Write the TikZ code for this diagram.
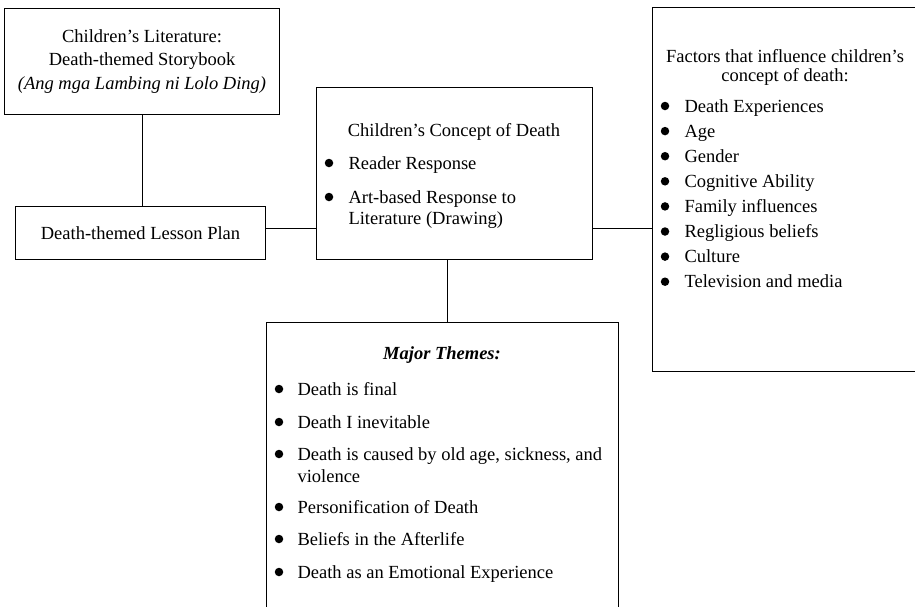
\documentclass[tikz,border=0pt]{standalone}
\usepackage{fontspec}
\setmainfont{Liberation Serif}
\usetikzlibrary{positioning, calc}
\newcommand{\fs}{\fontsize{18.5}{23.5}\selectfont}
\tikzset{
  diagram/.style={
	x=1pt, y=-1pt, % one unit is one pixel of the picture, y downwards
	line width=1pt,
	font=\fs,
  },
  frame/.style={draw, anchor=north west, inner sep=0pt, align=center}, % the boxes
  head/.style={anchor=base, inner sep=0pt}, % centred headings
  item/.style={anchor=base west, inner sep=0pt}, % text of a list entry
  bul/.style={circle, fill, inner sep=0pt, minimum size=8.5pt}, % list bullet
}

\begin{document}
\begin{tikzpicture}[diagram]
\useasboundingbox (0,0) rectangle (915,606);
\clip (0,0) rectangle (915,606);

% boxes
\node[frame, minimum width=275, minimum height=106] (story) at (4,8)
  {Children's Literature:\\ Death-themed Storybook\\ \textit{(Ang mga Lambing ni Lolo Ding)}};
\node[frame, minimum width=250, minimum height=53] (lesson) at (15,206) {Death-themed Lesson Plan};
\node[frame, minimum width=276, minimum height=172] (concept) at (316,87) {};
\node[frame, minimum width=266, minimum height=364] (factors) at (652,7) {};
\node[frame, minimum width=352, minimum height=300] (themes) at (266,322) {};

% connectors
\coordinate (j1) at ([yshift=4.5pt]lesson.east);
\coordinate (j2) at (concept.east |- j1);
\coordinate (j3) at ([xshift=-7pt]concept.south);
\draw (story.south) -- (story.south |- lesson.north);
\draw (j1) -- (j1 -| concept.west);
\draw (j2) -- (j2 -| factors.west);
\draw (j3) -- (j3 |- themes.north);

% children's concept of death
\node[head] (conceptT) at (454,136) {Children's Concept of Death};
\node[bul] (cb1) at (329,163) {};
\node[item] (c1) at (348,169) {Reader Response};
\node[bul] (cb2) at (329,197) {};
\node[item] (c2) at (348,203) {Art-based Response to};
\node[item] (c2b) at (348,224) {Literature (Drawing)};

% factors
\node[head] (factorsT1) at (785,62) {Factors that influence children's};
\node[head] (factorsT2) at (785,81) {concept of death:};
\foreach \t [count=\i] in {Death Experiences, Age, Gender, Cognitive Ability,
    Family influences, Regligious beliefs, Culture, Television and media}{
  \node[bul] (fb\i) at (665,{106+25.1*(\i-1)}) {};
  \node[item] (f\i) at (684,{112+25.1*(\i-1)}) {\t};
}

% major themes
\node[head, font=\fs\bfseries\itshape] (themesT) at (442,359) {Major Themes:};
\foreach \y/\t [count=\i] in {395/{Death is final}, 428/{Death I inevitable},
    460/{Death is caused by old age, sickness, and}, 513/{Personification of Death},
    545/{Beliefs in the Afterlife}, 578/{Death as an Emotional Experience}}{
  \node[bul] (tb\i) at (279,\y-6) {};
  \node[item] (t\i) at (297,\y) {\t};
}
\node[item] (t3b) at (297,482) {violence};
\end{tikzpicture}
\end{document}
